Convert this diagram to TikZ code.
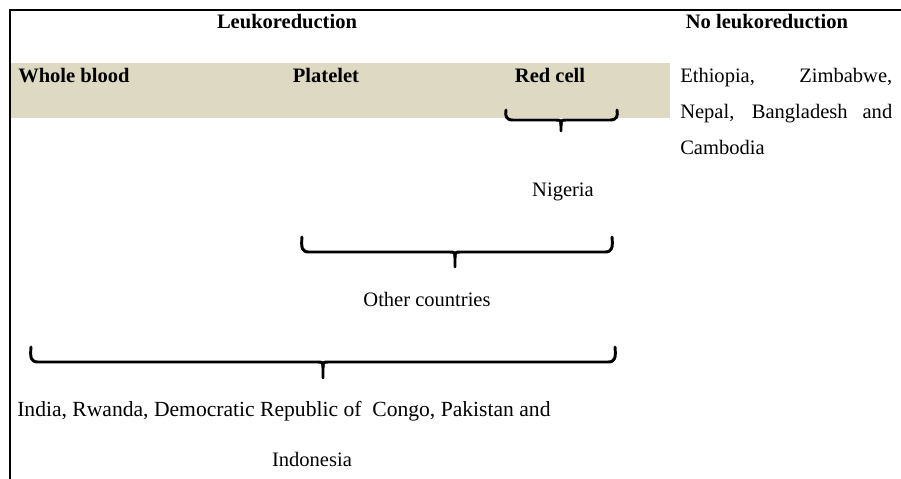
\documentclass[tikz,border=0pt]{standalone}
\usepackage{fontspec}
\setmainfont{Liberation Serif}
\definecolor{band}{HTML}{DDD9C3}
\newcommand\mybrace[6]{% x1 x2 xm ytop yh ybot
  \draw[bracestyle] (#1,#4) .. controls (#1-1,#5-4) and (#1,#5) .. (#1+7,#5)
    -- (#3-6,#5) .. controls (#3,#5) .. (#3,#5+6) -- (#3,#6);
  \draw[bracestyle] (#2,#4) .. controls (#2+1,#5-4) and (#2,#5) .. (#2-7,#5)
    -- (#3+6,#5) .. controls (#3,#5) .. (#3,#5+6);
}
\begin{document}
\begin{tikzpicture}[x=0.75pt,y=-0.75pt,
  basefont/.style={font=\fontsize{15.4}{18}\selectfont},
  lbl/.style={basefont, inner sep=0pt, anchor=base},
  head/.style={lbl, font=\fontsize{15.4}{18}\selectfont\bfseries},
  bracestyle/.style={line width=2.2pt, line cap=round, line join=round},
  rulestyle/.style={line width=1.2pt}]
\useasboundingbox (0,0) rectangle (901,479);
% shaded band
\fill[band] (11,63) rectangle (670,118);
% frame lines
\coordinate (tl) at (10,10);
\coordinate (tr) at (901,10);
\coordinate (bl) at (10,479);
\draw[rulestyle] (tr) -- (tl) -- (bl);
% headings
\node[head] (leuko) at (287,28) {Leukoreduction};
\node[head] (noleuko) at (767,28) {No leukoreduction};
\node[head, anchor=base west] (whole) at (18,82) {Whole blood};
\node[head] (plate) at (326,82) {Platelet};
\node[head] (red) at (550,82) {Red cell};
% right column
\node[lbl, anchor=base west] (eth) at (680,82) {\makebox[159pt][s]{Ethiopia, Zimbabwe,}};
\node[lbl, anchor=base west] (nep) at (680,118) {\makebox[159pt][s]{Nepal, Bangladesh and}};
\node[lbl, anchor=base west] (cam) at (680,154) {Cambodia};
% braces
\mybrace{506}{617}{561}{110}{120}{131}
\mybrace{302}{612}{455}{237}{252}{267}
\mybrace{31}{615}{323}{347}{362}{378}
% labels under braces
\node[lbl] (nig) at (563,196) {Nigeria};
\node[lbl] (other) at (427,306) {Other countries};
\node[lbl, anchor=base west, font=\fontsize{16.2}{18}\selectfont] (india) at (17,416) {India, Rwanda, Democratic Republic of\ \ Congo, Pakistan and};
\node[lbl] (indo) at (312,466) {Indonesia};
\end{tikzpicture}
\end{document}
